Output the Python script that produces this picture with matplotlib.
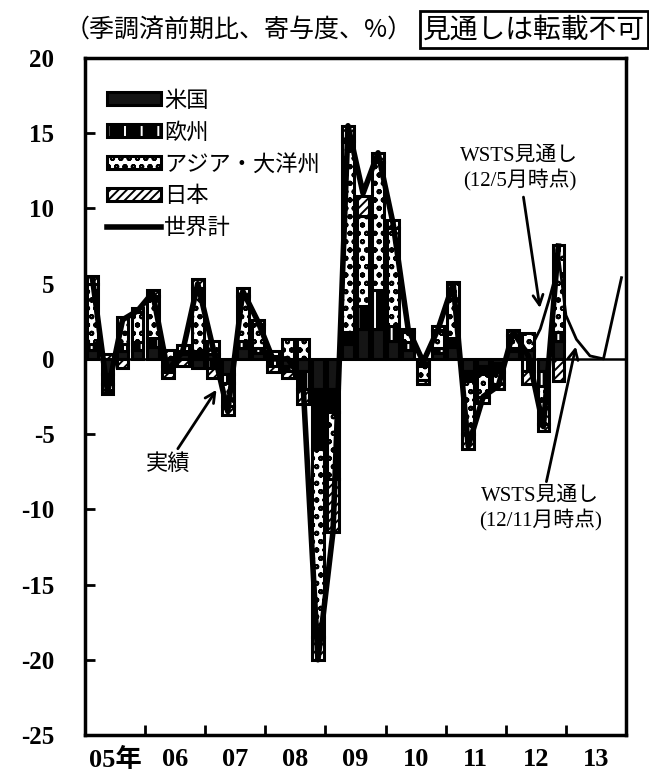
import numpy as np
import matplotlib
matplotlib.use('Agg')
import matplotlib.pyplot as plt
from matplotlib.patches import Patch
from matplotlib.lines import Line2D

plt.rcParams['font.family'] = ['Liberation Serif', 'Noto Sans CJK JP']
plt.rcParams['hatch.linewidth'] = 1.4
plt.rcParams['axes.unicode_minus'] = False

# quarterly categories, 2005Q1 - 2013Q4
quarters = [f'{y:02d}Q{q}' for y in range(5, 14) for q in range(1, 5)]
year_labels = ['05年', '06', '07', '08', '09', '10', '11', '12', '13']

# contributions (%pt), 2005Q1 - 2012Q4
us = [0.6, -1.0, 0.5, 0.6, 0.8, -0.5, 0.3, -0.6, 0.3, -1.0, 0.7, 0.4,
      0.2, -0.5, -0.8, -2.0, -2.0, 1.0, 2.0, 2.0, 1.2, 0.6, -0.3, 0.4,
      0.8, -0.8, -0.5, -0.3, 0.5, 0.6, -0.8, 1.2]
europe = [0.4, -0.7, 0.5, 0.5, 0.6, -0.4, 0.2, 0.5, -0.6, -0.6, 0.5, 0.3,
          -0.5, -0.3, -1.2, -4.0, -1.5, 0.8, 1.5, 2.6, 1.0, 0.5, -0.2, 0.3,
          0.6, -0.7, -0.5, -0.6, 0.2, -0.8, -1.0, 0.6]
asia = [4.0, -0.6, 1.8, 2.0, 2.8, 0.6, 0.4, 4.2, 0.9, -1.5, 3.0, 1.6,
        0.3, 1.3, 1.3, -12.5, -4.5, 12.7, 6.0, 8.5, 6.5, 0.7, -0.9, 1.2,
        3.7, -3.5, -1.5, -0.8, 0.9, 1.1, -2.5, 5.8]
japan = [0.5, 0.3, -0.6, 0.3, 0.4, -0.4, -0.5, 0.6, -0.7, -0.6, 0.5, 0.3,
         -0.4, -0.5, -1.0, -1.5, -3.5, 1.0, 1.3, 0.6, 0.5, 0.2, -0.3, 0.3,
         0.0, -1.0, -0.4, -0.3, 0.3, -0.9, -0.5, -1.5]
# world total (line)
world = [5.3, -2.2, 2.6, 3.2, 4.4, -0.8, 0.5, 5.0, 0.8, -3.5, 4.5, 2.5,
         0.0, 0.0, -1.5, -20.0, -11.5, 15.5, 11.0, 13.7, 9.0, 2.0, -0.2, 2.0,
         5.0, -5.8, -2.5, -1.8, 1.8, 0.2, -4.5, 7.5]
# WSTS forecasts (position in quarters from 2005Q1, value)
fc_may_x = [29.3, 29.8, 30.4, 30.8, 31.0]
fc_may_y = [1.0, 2.0, 4.0, 5.5, 7.0]
fc_nov_x = [31.0, 31.5, 32.2, 33.1, 34.0, 35.2]
fc_nov_y = [7.0, 2.9, 1.3, 0.2, 0.0, 5.4]

fig = plt.figure(figsize=(6.49, 7.83), dpi=100)
ax = fig.add_axes([0.131, 0.0613, 0.8336, 0.8646])

x = np.arange(len(world))
series = [us, europe, asia, japan]
pos_base = np.zeros(len(x))
neg_base = np.zeros(len(x))
w = 0.78
elw = 2.2
for k, s in enumerate(series):
    s = np.array(s)
    bottom = np.where(s >= 0, pos_base, neg_base)
    if k == 0:
        ax.bar(x, s, w, bottom=bottom, facecolor='#151515', edgecolor='black', lw=elw, zorder=2)
    elif k == 1:
        ax.bar(x, s, w, bottom=bottom, facecolor='black', lw=0, zorder=2)
        ax.bar(x, s, w, bottom=bottom, facecolor='none', edgecolor='white', hatch='|', lw=0, zorder=2)
        ax.bar(x, s, w, bottom=bottom, facecolor='none', edgecolor='black', lw=elw, zorder=2)
    elif k == 2:
        ax.bar(x, s, w, bottom=bottom, facecolor='white', edgecolor='black', hatch='oo', lw=elw, zorder=2)
    else:
        ax.bar(x, s, w, bottom=bottom, facecolor='white', edgecolor='black', hatch='////', lw=elw, zorder=2)
    pos_base = pos_base + np.where(s >= 0, s, 0)
    neg_base = neg_base + np.where(s < 0, s, 0)

ax.plot(x, world, color='black', lw=4, zorder=3)
ax.plot(fc_may_x, fc_may_y, color='black', lw=2, zorder=3)
ax.plot(fc_nov_x, fc_nov_y, color='black', lw=2, zorder=3)
ax.axhline(0, color='black', lw=1.8, zorder=1)

ax.set_xlim(-0.5, len(quarters) - 0.5)
ax.set_ylim(-25, 20)
ax.set_yticks(np.arange(-25, 21, 5))
ax.set_xticks(np.arange(3.5, len(quarters) - 1, 4))
ax.set_xticklabels([])
ax.set_xticks(np.arange(1.5, len(quarters), 4), minor=True)
ax.set_xticklabels(year_labels, minor=True)
ax.tick_params(axis='x', which='major', direction='in', length=7, width=2)
ax.tick_params(axis='x', which='minor', length=0, pad=9, labelsize=19)
ax.tick_params(axis='y', direction='in', length=7, width=2, labelsize=18, pad=22)
for lab in ax.get_yticklabels() + ax.get_xticklabels(minor=True):
    lab.set_fontweight('bold')
for sp in ax.spines.values():
    sp.set_linewidth(2.5)

# legend
h_us = Patch(facecolor='#151515', edgecolor='black', lw=elw)
h_eu = (Patch(facecolor='black', lw=0),
        Patch(facecolor='none', edgecolor='white', hatch='|', lw=0),
        Patch(facecolor='none', edgecolor='black', lw=elw))
h_as = Patch(facecolor='white', edgecolor='black', hatch='oo', lw=elw)
h_jp = Patch(facecolor='white', edgecolor='black', hatch='////', lw=elw)
h_w = Line2D([], [], color='black', lw=4)
ax.legend([h_us, h_eu, h_as, h_jp, h_w], ['米国', '欧州', 'アジア・大洋州', '日本', '世界計'],
          loc='upper left', bbox_to_anchor=(0.025, 0.968), frameon=False,
          prop={'family': ['Noto Sans CJK JP'], 'size': 16},
          handlelength=2.4, handleheight=0.55, handletextpad=0.15, labelspacing=0.4,
          borderaxespad=0)

# annotations
arw = dict(arrowstyle='->', lw=2, color='black', mutation_scale=18)
ax.annotate('WSTS見通し\n(12/5月時点)', xy=(29.8, 3.2), xytext=(28.4, 12.6),
            ha='center', va='center', fontsize=15, arrowprops=arw, linespacing=1.2)
ax.annotate('WSTS見通し\n(12/11月時点)', xy=(32.2, 1.0), xytext=(29.8, -10.0),
            ha='center', va='center', fontsize=15, arrowprops=arw, linespacing=1.2)
ax.annotate('実績', xy=(8.35, -1.9), xytext=(5.0, -7.0),
            ha='center', va='center', fontsize=16, arrowprops=arw)

fig.text(0.10, 0.962, '（季調済前期比、寄与度、%）', ha='left', va='center', fontsize=18,
         family=['Noto Sans CJK JP'])
fig.text(0.994, 0.962, '見通しは転載不可', ha='right', va='center', fontsize=20,
         family=['Noto Sans CJK JP'],
         bbox=dict(boxstyle='square,pad=0.12', facecolor='white', edgecolor='black', lw=2))

fig.savefig('out.png', dpi=100)
